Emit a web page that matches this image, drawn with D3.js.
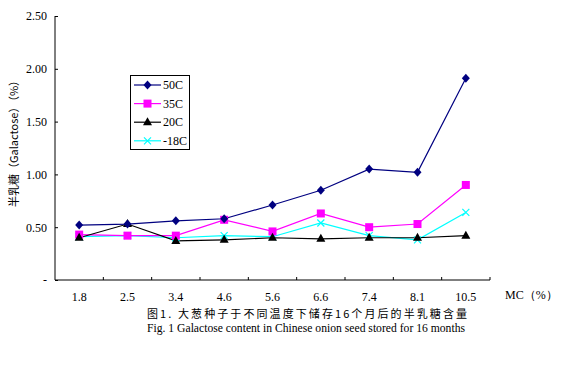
<!DOCTYPE html>
<html><head><meta charset="utf-8">
<script src="https://cdn.jsdelivr.net/npm/d3@7"></script>
<style>body{margin:0;background:#fff}svg{display:block}</style>
</head><body>
<svg id="c" width="567" height="381"></svg>
<script>
const categories = ["1.8","2.5","3.4","4.6","5.6","6.6","7.4","8.1","10.5"];
const s50  = [0.52,0.53,0.56,0.58,0.71,0.85,1.05,1.02,1.91];
const s35  = [0.43,0.42,0.42,0.57,0.46,0.63,0.50,0.53,0.90];
const s20  = [0.40,0.53,0.37,0.38,0.40,0.39,0.40,0.40,0.42];
const sM18 = [0.41,0.42,0.40,0.42,0.41,0.54,0.42,0.38,0.64];
const seriesNames = ["50C","35C","20C","-18C"];
const yTicks = [0,0.5,1.0,1.5,2.0,2.5];

const series = [
  {name:seriesNames[0], values:s50, color:"#000080", marker:"diamond"},
  {name:seriesNames[1], values:s35, color:"#FF00FF", marker:"square"},
  {name:seriesNames[2], values:s20, color:"#000000", marker:"triangle"},
  {name:seriesNames[3], values:sM18, color:"#00FFFF", marker:"x"}
];

const svg = d3.select("#c");
const L=55, R=490, T=16, B=280;
const x = d3.scaleBand().domain(categories).range([L,R]);
const y = d3.scaleLinear().domain([0,2.5]).range([B,T]);
const serif = "'Liberation Serif','Times New Roman',serif";

// axes
const yAxis = d3.axisLeft(y).tickValues(yTicks).tickSize(-3).tickPadding(8)
  .tickFormat(d=> d===0 ? "-" : d3.format(".2f")(d));
const gy = svg.append("g").attr("transform",`translate(${L},0)`).call(yAxis);
gy.select(".domain").attr("stroke","#000").attr("d",`M0,${T}V${B}`);
gy.selectAll("text").attr("font-family",serif).attr("font-size",12).attr("fill","#000");
gy.selectAll("line").attr("stroke","#000");

const xAxis = d3.axisBottom(x).tickSize(0).tickPadding(12);
const gx = svg.append("g").attr("transform",`translate(0,${B})`).call(xAxis);
gx.select(".domain").attr("stroke","#000").attr("d",`M${L},0H${R}`);
gx.selectAll("text").attr("font-family",serif).attr("font-size",12).attr("fill","#000");
// boundary ticks (pointing up)
const bounds = categories.slice(1).map(c=>x(c)).concat([R]);
svg.append("g").selectAll("line").data(bounds).join("line")
  .attr("x1",d=>d).attr("x2",d=>d).attr("y1",B).attr("y2",B-3).attr("stroke","#000");

// lines
const line = d3.line().x((d,i)=>x(categories[i])+x.bandwidth()/2).y(d=>y(d));
function drawMarker(g, type, cx, cy, color){
  if(type==="diamond"){
    g.append("path").attr("d",`M${cx},${cy-4.5}L${cx+4},${cy}L${cx},${cy+4.5}L${cx-4},${cy}Z`).attr("fill",color);
  } else if(type==="square"){
    g.append("rect").attr("x",cx-4).attr("y",cy-4).attr("width",8).attr("height",8).attr("fill",color);
  } else if(type==="triangle"){
    g.append("path").attr("d",`M${cx},${cy-5}L${cx+4.5},${cy+3}L${cx-4.5},${cy+3}Z`).attr("fill",color);
  } else {
    g.append("path").attr("d",`M${cx-3.5},${cy-3.5}L${cx+3.5},${cy+3.5}M${cx+3.5},${cy-3.5}L${cx-3.5},${cy+3.5}`).attr("stroke",color).attr("stroke-width",1.2);
  }
}
const order = [3,1,2,0];
order.forEach(k=>{
  const s = series[k];
  svg.append("path").datum(s.values).attr("d",line).attr("fill","none").attr("stroke",s.color).attr("stroke-width",1.2);
});
order.forEach(k=>{
  const s = series[k];
  const g = svg.append("g");
  s.values.forEach((v,i)=>drawMarker(g,s.marker,x(categories[i])+x.bandwidth()/2,y(v),s.color));
});

// legend
svg.append("rect").attr("x",130.5).attr("y",75.5).attr("width",59).attr("height",74).attr("fill","#fff").attr("stroke","#000").attr("stroke-width",1);
series.forEach((s,i)=>{
  const ly = 85 + i*18.6;
  const g = svg.append("g");
  g.append("line").attr("x1",134).attr("x2",161).attr("y1",ly).attr("y2",ly).attr("stroke",s.color).attr("stroke-width",1.2);
  drawMarker(g,s.marker,147.5,ly,s.color);
  g.append("text").attr("x",163).attr("y",ly+4).text(s.name).attr("font-family",serif).attr("font-size",12).attr("fill","#000");
});

// y label
svg.append("text").attr("transform","translate(18,141) rotate(-90)").attr("text-anchor","middle")
  .attr("font-family","'Noto Sans CJK SC',sans-serif").attr("font-size",11).attr("fill","#000")
  .text("半乳糖（Galactose）（%）");

// x label
svg.append("text").attr("x",505).attr("y",299).attr("font-family",serif).attr("font-size",12).attr("fill","#000").text("MC（%）");

// captions
svg.append("text").attr("x",147).attr("y",318).attr("font-family","'Noto Sans CJK SC',sans-serif").attr("font-size",11)
  .attr("textLength",320).attr("lengthAdjust","spacing").attr("fill","#000").text("图1. 大葱种子于不同温度下储存16个月后的半乳糖含量");
svg.append("text").attr("x",147).attr("y",332).attr("font-family",serif).attr("font-size",12)
  .attr("textLength",318).attr("lengthAdjust","spacingAndGlyphs").attr("fill","#000").text("Fig.  1 Galactose content in Chinese onion seed stored for 16 months");
</script>
</body></html>
